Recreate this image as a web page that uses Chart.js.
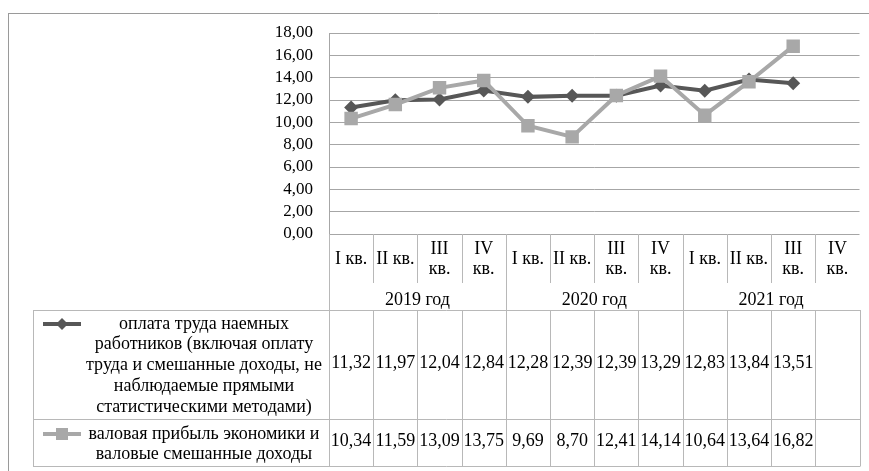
<!DOCTYPE html>
<html lang="ru">
<head>
    <meta charset="UTF-8">
    <title>Оплата труда и валовая прибыль</title>
    <script src="https://cdn.jsdelivr.net/npm/chart.js"></script>
    <style>
        body { margin: 0; background: #fff; }
        canvas { display: block; }
    </style>
</head>
<body>
    <canvas id="incomeChart" width="869" height="471"></canvas>

    <script>
        // data
        const years = ["2019 год", "2020 год", "2021 год"];
        const quarters = [["I кв."], ["II кв."], ["III", "кв."], ["IV", "кв."]];
        const wages = [11.32, 11.97, 12.04, 12.84, 12.28, 12.39, 12.39, 13.29, 12.83, 13.84, 13.51, null];
        const profit = [10.34, 11.59, 13.09, 13.75, 9.69, 8.70, 12.41, 14.14, 10.64, 13.64, 16.82, null];
        const wagesName = ["оплата труда наемных", "работников (включая оплату", "труда и смешанные доходы, не", "наблюдаемые прямыми", "статистическими методами)"];
        const profitName = ["валовая прибыль экономики и", "валовые смешанные доходы"];
        const yMin = 0, yMax = 18, yStep = 2;

        const labels = [];
        years.forEach(y => quarters.forEach(q => labels.push(q.join(" ") + " " + y)));

        const FONT = "'Liberation Serif', 'Times New Roman', serif";
        const DARK = "#575757";
        const LIGHT = "#a8a8a8";
        const GRID = "#a6a6a6";
        const TABLE = "#b8b8b8";

        const fmt = v => v.toFixed(2).replace(".", ",");

        function hLine(ctx, x1, x2, y) {
            ctx.beginPath();
            ctx.moveTo(x1, Math.round(y) + 0.5);
            ctx.lineTo(x2, Math.round(y) + 0.5);
            ctx.stroke();
        }
        function vLine(ctx, x, y1, y2) {
            ctx.beginPath();
            ctx.moveTo(Math.round(x) + 0.5, y1);
            ctx.lineTo(Math.round(x) + 0.5, y2);
            ctx.stroke();
        }

        // table under the plot, laid out on the x scale
        const dataTable = {
            id: "dataTable",
            beforeDraw(chart) {
                const ctx = chart.ctx;
                ctx.save();
                ctx.strokeStyle = "#9a9a9a";
                ctx.lineWidth = 1;
                hLine(ctx, 8, 869, 13);
                vLine(ctx, 8, 13, 471);
                ctx.restore();
            },
            afterDraw(chart) {
                const ctx = chart.ctx;
                const xs = chart.scales.x;
                const top = chart.chartArea.bottom;
                const right = chart.chartArea.right;
                const half = (xs.getPixelForValue(1) - xs.getPixelForValue(0)) / 2;
                const catBottom = top + 49, rowTop = top + 76, rowMid = top + 185, rowBottom = top + 232;
                const tableLeft = 33;
                const nameX = 204;

                ctx.save();
                ctx.strokeStyle = TABLE;
                ctx.lineWidth = 1;
                // category row separators
                for (let i = 0; i < labels.length; i++) {
                    const bx = xs.getPixelForValue(i) - half;
                    vLine(ctx, bx, top, i % 4 === 0 ? rowTop : catBottom);
                }
                // series rows grid
                hLine(ctx, tableLeft, right + 1, rowTop);
                hLine(ctx, tableLeft, right + 1, rowMid);
                hLine(ctx, tableLeft, right + 1, rowBottom);
                vLine(ctx, tableLeft, rowTop, rowBottom);
                for (let i = 0; i <= labels.length; i++) {
                    vLine(ctx, xs.getPixelForValue(i) - half, rowTop, rowBottom);
                }

                ctx.fillStyle = "#000";
                ctx.font = "18px " + FONT;
                ctx.textAlign = "center";
                ctx.textBaseline = "middle";
                labels.forEach((l, i) => {
                    const cx = xs.getPixelForValue(i);
                    const q = quarters[i % 4];
                    if (q.length === 1) {
                        ctx.fillText(q[0], cx, top + 25);
                    } else {
                        ctx.fillText(q[0], cx, top + 15);
                        ctx.fillText(q[1], cx, top + 35);
                    }
                    if (wages[i] !== null) ctx.fillText(fmt(wages[i]), cx, top + 129);
                    if (profit[i] !== null) ctx.fillText(fmt(profit[i]), cx, top + 207);
                });
                years.forEach((y, k) => {
                    const cx = (xs.getPixelForValue(k * 4) + xs.getPixelForValue(k * 4 + 3)) / 2;
                    ctx.fillText(y, cx, top + 66);
                });

                // series names with legend keys
                const lh = 20.7;
                const name1 = top + 90, name2 = top + 200;
                wagesName.forEach((t, k) => ctx.fillText(t, nameX, name1 + k * lh));
                profitName.forEach((t, k) => ctx.fillText(t, nameX, name2 + k * lh));

                ctx.lineWidth = 4;
                ctx.strokeStyle = DARK;
                ctx.beginPath(); ctx.moveTo(43, name1); ctx.lineTo(81, name1); ctx.stroke();
                ctx.fillStyle = DARK;
                ctx.beginPath();
                ctx.moveTo(62, name1 - 6); ctx.lineTo(68, name1); ctx.lineTo(62, name1 + 6); ctx.lineTo(56, name1);
                ctx.closePath(); ctx.fill();
                ctx.strokeStyle = LIGHT;
                ctx.beginPath(); ctx.moveTo(43, name2); ctx.lineTo(81, name2); ctx.stroke();
                ctx.fillStyle = LIGHT;
                ctx.fillRect(56, name2 - 6, 12, 12);
                ctx.restore();
            }
        };

        new Chart(document.getElementById("incomeChart"), {
            type: "line",
            data: {
                labels: labels,
                datasets: [{
                    label: wagesName.join(" "),
                    data: wages,
                    borderColor: DARK,
                    backgroundColor: DARK,
                    borderWidth: 4,
                    pointStyle: "rectRot",
                    pointRadius: 7,
                    pointBorderWidth: 0,
                    order: 1
                }, {
                    label: profitName.join(" "),
                    data: profit,
                    borderColor: LIGHT,
                    backgroundColor: LIGHT,
                    borderWidth: 4,
                    pointStyle: "rect",
                    pointRadius: 9.5,
                    pointBorderWidth: 0,
                    order: 0
                }]
            },
            options: {
                responsive: false,
                animation: false,
                layout: { padding: { top: 33, right: 7, bottom: 237, left: 0 } },
                plugins: {
                    legend: { display: false },
                    tooltip: { enabled: false }
                },
                scales: {
                    x: {
                        display: false,
                        offset: true
                    },
                    y: {
                        min: yMin,
                        max: yMax,
                        afterFit(scale) { scale.width = 329; },
                        ticks: {
                            stepSize: yStep,
                            autoSkip: false,
                            padding: 16,
                            color: "#000",
                            font: { family: FONT, size: 17 },
                            callback: v => fmt(v)
                        },
                        grid: { color: GRID, drawTicks: false },
                        border: { display: true, color: GRID }
                    }
                }
            },
            plugins: [dataTable]
        });
    </script>
</body>
</html>
